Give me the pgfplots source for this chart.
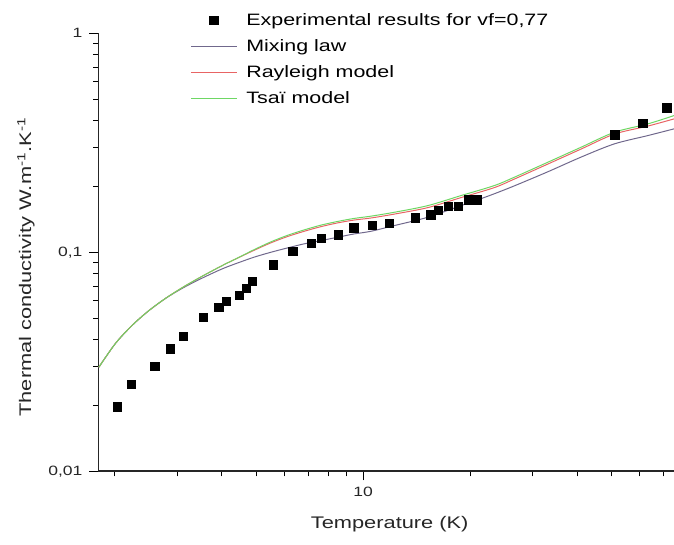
\documentclass[border=0pt]{standalone}
\usepackage{fontspec}
\setmainfont{Liberation Sans}[FakeStretch=1.3]
\usepackage{pgfplots}
\pgfplotsset{compat=1.18}

\definecolor{mixc}{RGB}{112,104,140}
\definecolor{rayc}{RGB}{232,100,100}
\definecolor{tsac}{RGB}{110,215,100}

\begin{document}
\begin{tikzpicture}
\begin{axis}[
  xmode=log, ymode=log,
  scale only axis, width=288pt, height=219.2pt,
  xmin=1.8, xmax=75, ymin=0.01, ymax=1,
  axis lines*=left,
  axis line style={line width=0.9pt, black!85},
  tick align=outside,
  major tick length=4.5pt, minor tick length=2.5pt,
  every tick/.style={black, line width=0.5pt},
  xtick={10}, xticklabels={10},
  minor xtick={2,3,4,5,6,7,8,9,20,30,40,50,60,70},
  ytick={0.01,0.1,1}, yticklabels={{0,01},{0,1},{1}},
  minor ytick={0.02,0.03,0.04,0.05,0.06,0.07,0.08,0.09,0.2,0.3,0.4,0.5,0.6,0.7,0.8,0.9},
  /pgf/number format/assume math mode=true,
  tick label style={font=\fontsize{6.75}{8}\selectfont, black!85},
  xlabel={Temperature (K)},
  ylabel={Thermal conductivity W.m\textsuperscript{-1}.K\textsuperscript{-1}},
  label style={font=\fontsize{8.4}{10}\selectfont, black!85},
  xlabel style={at={(axis description cs:0.506,-0.1216)}, anchor=center},
  ylabel style={at={(axis description cs:-0.126,0.467)}, anchor=center},
  legend style={at={(axis description cs:0.1497,1.0691)}, anchor=north west,
    draw=none, fill=none, font=\fontsize{8.25}{9.9}\selectfont,
    nodes={inner sep=0pt, text height=9pt, text depth=4pt},
    row sep=0pt, column sep=4.7pt},
  legend cell align=left,
  legend image code/.code={\draw[mark repeat=2, mark phase=2, #1]
    plot coordinates {(0pt,0pt) (11.25pt,0pt) (22.5pt,0pt)};},
  clip=false,
]
\addplot[only marks, mark=square*, mark size=2.1pt, black]
  coordinates {
  (2.033,0.0197) (2.226,0.0249) (2.594,0.0302) (2.873,0.0362) (3.120,0.0412)
  (3.551,0.0505) (3.930,0.0559) (4.130,0.0596) (4.494,0.0634) (4.693,0.0685)
  (4.890,0.0735) (5.591,0.0876) (6.350,0.1011) (7.155,0.1096) (7.633,0.1155)
  (8.524,0.1201) (9.433,0.1293) (10.63,0.1328) (11.87,0.1356) (14.01,0.1436)
  (15.51,0.1482) (16.31,0.1550) (17.40,0.1622) (18.57,0.1622) (19.81,0.1735)
  (21.00,0.1735) (51.07,0.3437) (61.24,0.388) (71.7,0.4564)};
\addlegendentry{Experimental results for vf=0,77}

\addplot[mixc, line width=0.5pt, smooth]
  coordinates {
  (1.804,0.02985) (2.011,0.03842) (2.240,0.04642) (2.496,0.05418) (2.782,0.06166)
  (3.099,0.0685) (3.451,0.0750) (3.847,0.0815) (4.105,0.0853) (4.428,0.0893)
  (4.932,0.0950) (5.495,0.1000) (6.124,0.1047) (6.822,0.1093) (7.600,0.1131)
  (8.472,0.1171) (9.432,0.1213) (10.51,0.1247) (12.23,0.1324) (15.19,0.1445)
  (18.85,0.1633) (21.00,0.1735) (23.39,0.1850) (26.63,0.2010) (33.07,0.2330)
  (41.04,0.2720) (50.93,0.3126) (63.26,0.3411) (75.0,0.3661)};
\addlegendentry{Mixing law}

\addplot[rayc, line width=0.5pt, smooth]
  coordinates {
  (1.804,0.02985) (2.011,0.03842) (2.240,0.04642) (2.496,0.05418) (2.782,0.06166)
  (3.099,0.06899) (3.451,0.0763) (3.847,0.0839) (4.105,0.0886) (4.428,0.0940)
  (4.932,0.1021) (5.495,0.1104) (6.124,0.1180) (6.822,0.1247) (7.600,0.1309)
  (8.472,0.1362) (9.432,0.1404) (10.51,0.1434) (12.23,0.1494) (15.19,0.1599)
  (18.85,0.1777) (23.39,0.1974) (26.63,0.2159) (33.07,0.2527) (41.04,0.2960)
  (50.93,0.3465) (63.26,0.3770) (75.0,0.4065)};
\addlegendentry{Rayleigh model}

\addplot[tsac, line width=0.5pt, smooth]
  coordinates {
  (1.804,0.02985) (2.011,0.03842) (2.240,0.04642) (2.496,0.05418) (2.782,0.06166)
  (3.099,0.06899) (3.451,0.0763) (3.847,0.0839) (4.105,0.0886) (4.428,0.0941)
  (4.932,0.1028) (5.495,0.1115) (6.124,0.1195) (6.822,0.1265) (7.600,0.1330)
  (8.472,0.1383) (9.432,0.1428) (10.51,0.1462) (12.23,0.1523) (15.19,0.1633)
  (18.85,0.1815) (23.39,0.2016) (26.63,0.2201) (33.07,0.2576) (41.04,0.3017)
  (50.93,0.3532) (63.26,0.3858) (75.0,0.4209)};
\addlegendentry{Tsaï model}
\end{axis}
\pgfresetboundingbox
\path[use as bounding box] ([shift={(-49.25pt,-36.65pt)}]current axis.south west)
  rectangle ([shift={(0pt,16.65pt)}]current axis.north east);
\end{tikzpicture}
\end{document}
